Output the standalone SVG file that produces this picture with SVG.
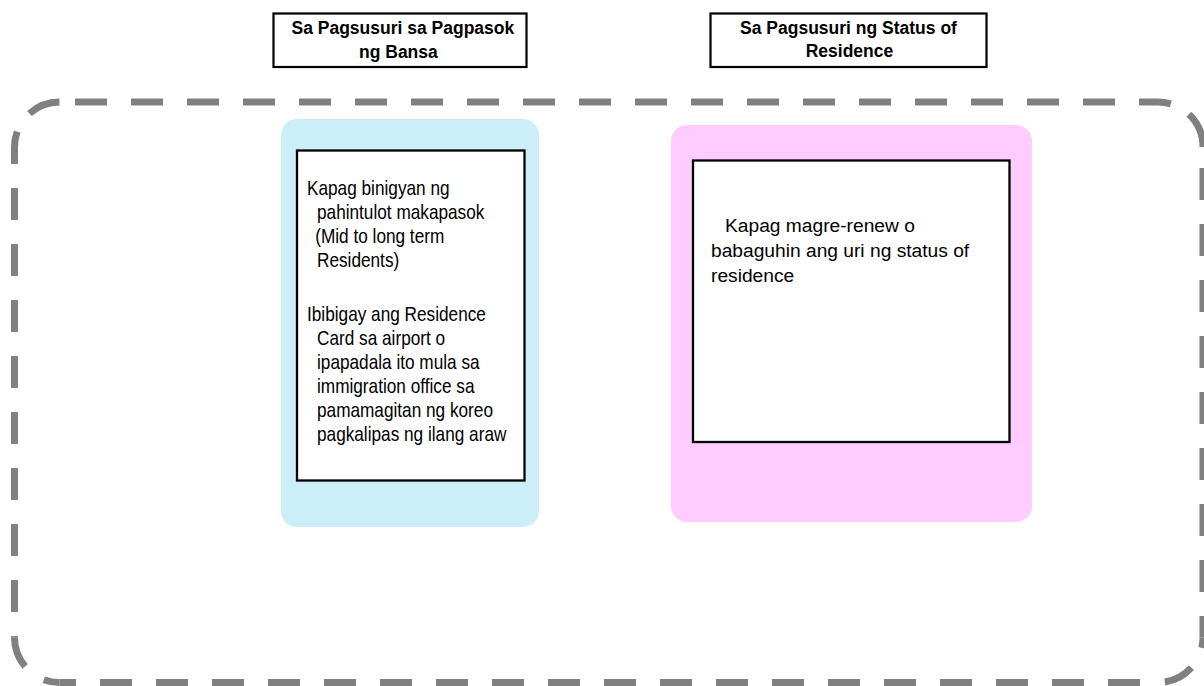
<svg xmlns="http://www.w3.org/2000/svg" width="1204" height="686" viewBox="0 0 1204 686">
  <style>
    .frame { fill: none; stroke: #808080; stroke-width: 7; stroke-linecap: butt; }
    .hdr { fill: #ffffff; stroke: #000000; stroke-width: 2.2; }
    .hdrtxt { font-family: "Liberation Sans", Arial, sans-serif; font-size: 17.5px; font-weight: bold; fill: #000000; }
    .inner { fill: #ffffff; stroke: #000000; stroke-width: 2.3; }
    .body { font-family: "Liberation Sans", Arial, sans-serif; font-size: 21px; fill: #000000; }
    .body2 { font-family: "Liberation Sans", Arial, sans-serif; font-size: 19.2px; fill: #000000; }
  </style>
  <rect x="0" y="0" width="1204" height="686" fill="#ffffff"/>

  <g id="frame">
    <path class="frame" d="M59.5,102 H1158" stroke-dasharray="32 24" stroke-dashoffset="40.5"/>
    <path class="frame" d="M1158,102 A45,45 0 0 1 1203,147" stroke-dasharray="13 21 50"/>
    <path class="frame" d="M1203,147 V637.5" stroke-dasharray="32 24" stroke-dashoffset="35"/>
    <path class="frame" d="M1203,637.5 A45,45 0 0 1 1158,682.5" stroke-dasharray="10.5 22.5 30.7 30"/>
    <path class="frame" d="M59.5,682.5 H1158" stroke-dasharray="32 24" stroke-dashoffset="15.5"/>
    <path class="frame" d="M59.5,682.5 A45,45 0 0 1 14.5,637.5" stroke-dasharray="16 23 50"/>
    <path class="frame" d="M14.5,147 V637.5" stroke-dasharray="32 24" stroke-dashoffset="15"/>
    <path class="frame" d="M14.5,147 A45,45 0 0 1 59.5,102" stroke-dasharray="15.7 22 50"/>
  </g>

  <g id="header-entry">
    <rect class="hdr" x="273.5" y="13.5" width="253" height="53.5"/>
    <text class="hdrtxt" x="291.5" y="34">Sa Pagsusuri sa Pagpasok</text>
    <text class="hdrtxt" x="359" y="58">ng Bansa</text>
  </g>

  <g id="header-status">
    <rect class="hdr" x="710.5" y="13.5" width="276" height="53.5"/>
    <text class="hdrtxt" x="848.5" y="34" text-anchor="middle">Sa Pagsusuri ng Status of</text>
    <text class="hdrtxt" x="849.5" y="57" text-anchor="middle">Residence</text>
  </g>

  <g id="entry-card">
    <rect x="281" y="119" width="258" height="408" rx="16" ry="16" fill="#CCEEF9"/>
    <rect class="inner" x="297" y="150.5" width="227.5" height="330"/>
    <g transform="translate(307 0) scale(0.82 1)">
      <text class="body" x="0" y="195">Kapag binigyan ng</text>
      <text class="body" x="12.2" y="219">pahintulot makapasok</text>
      <text class="body" x="10" y="243">(Mid to long term</text>
      <text class="body" x="12.2" y="267">Residents)</text>
      <text class="body" x="0" y="321.5">Ibibigay ang Residence</text>
      <text class="body" x="12.2" y="345.5">Card sa airport o</text>
      <text class="body" x="12.2" y="369.5">ipapadala ito mula sa</text>
      <text class="body" x="12.2" y="393.5">immigration office sa</text>
      <text class="body" x="12.2" y="417.5">pamamagitan ng koreo</text>
      <text class="body" x="12.2" y="441.5">pagkalipas ng ilang araw</text>
    </g>
  </g>

  <g id="status-card">
    <rect x="671" y="125" width="361" height="397" rx="16" ry="16" fill="#FFCCFF"/>
    <rect class="inner" x="693" y="160.5" width="316.5" height="281.5"/>
    <text class="body2" x="725" y="232">Kapag magre-renew o</text>
    <text class="body2" x="711" y="257">babaguhin ang uri ng status of</text>
    <text class="body2" x="711" y="282">residence</text>
  </g>

  <g id="connectors"/>
</svg>
